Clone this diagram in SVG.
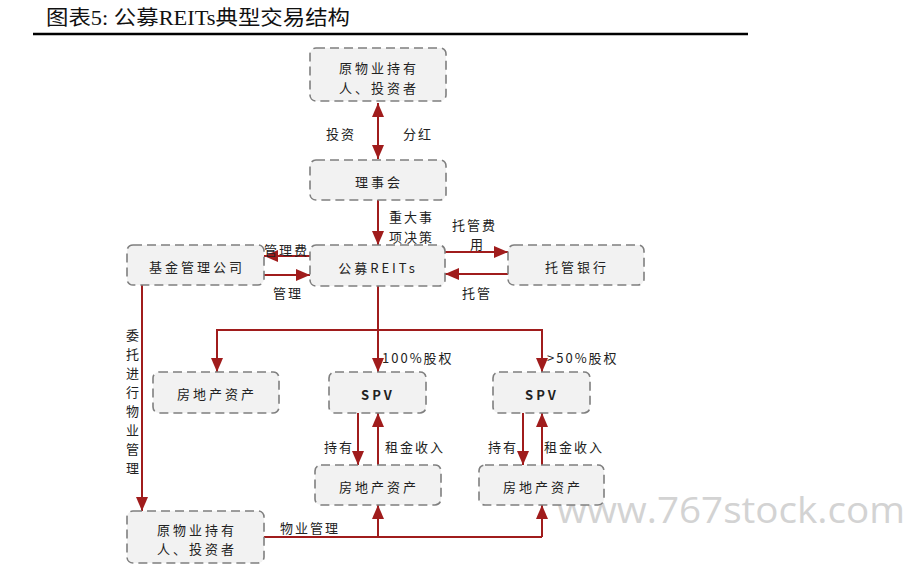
<svg xmlns="http://www.w3.org/2000/svg" width="907" height="586" viewBox="0 0 907 586">
<style>
.box{fill:#f2f2f2;stroke:#7f7f7f;stroke-width:1.6;stroke-dasharray:9 5}
.t{font-family:"Noto Sans CJK SC","Liberation Sans",sans-serif;font-size:13px;fill:#222;letter-spacing:3px;text-anchor:middle;dominant-baseline:central}
.l{font-family:"Noto Sans CJK SC","Liberation Sans",sans-serif;font-size:13px;fill:#222;letter-spacing:2px;dominant-baseline:central}
.c{fill:none;stroke:#a01c1c;stroke-width:2}
.a{marker-end:url(#ah)}
</style>
<defs>
<marker id="ah" markerUnits="userSpaceOnUse" markerWidth="14" markerHeight="12" refX="14" refY="6" orient="auto-start-reverse" viewBox="0 0 14 12">
<path d="M0,0 L14,6 L0,12 z" fill="#a01c1c"/>
</marker>
</defs>
<rect width="907" height="586" fill="#fff"/>
<text x="46" y="25" font-family="'Liberation Serif','Noto Sans CJK SC',serif" font-size="20" fill="#111" textLength="304" lengthAdjust="spacingAndGlyphs">图表5:  公募REITs典型交易结构</text>
<line x1="33" y1="34" x2="748" y2="34" stroke="#000" stroke-width="2.6"/>
<text x="557" y="523" font-family="'Open Sans','Liberation Sans',sans-serif" font-size="36" fill="#d3d3d3" textLength="348" lengthAdjust="spacingAndGlyphs">www.767stock.com</text>

<g id="connectors">
<line class="c a" x1="378" y1="103" x2="378" y2="159" marker-start="url(#ah)"/>
<line class="c a" x1="378" y1="200" x2="378" y2="245"/>
<line class="c a" x1="310" y1="256" x2="264" y2="256"/>
<line class="c a" x1="264" y1="275" x2="310" y2="275"/>
<line class="c a" x1="445" y1="252" x2="508" y2="252"/>
<line class="c a" x1="508" y1="274" x2="445" y2="274"/>
<line class="c a" x1="378" y1="286" x2="378" y2="372"/>
<polyline class="c a" points="378,330 217,330 217,372"/>
<polyline class="c a" points="378,330 542,330 542,372"/>
<line class="c a" x1="142" y1="285" x2="142" y2="511"/>
<line class="c a" x1="358" y1="413" x2="358" y2="465"/>
<line class="c a" x1="378" y1="465" x2="378" y2="413"/>
<line class="c a" x1="523" y1="413" x2="523" y2="465"/>
<line class="c a" x1="542" y1="465" x2="542" y2="413"/>
<polyline class="c" points="264,537 542,537"/>
<line class="c a" x1="378" y1="537" x2="378" y2="505"/>
<line class="c a" x1="542" y1="537" x2="542" y2="505"/>
<text class="l" x="326" y="133">投资</text>
<text class="l" x="403" y="133">分红</text>
<text class="l" x="389" y="216">重大事</text>
<text class="l" x="389" y="236">项决策</text>
<text class="l" x="452" y="224">托管费</text>
<text class="l" x="470" y="243">用</text>
<text class="l" x="264" y="249">管理费</text>
<text class="l" x="273" y="292">管理</text>
<text class="l" x="462" y="292">托管</text>
<text class="l" x="382" y="357" letter-spacing="0">100%股权</text>
<text class="l" x="547" y="357" letter-spacing="0">&gt;50%股权</text>
<text class="l" x="324" y="446">持有</text>
<text class="l" x="385" y="446">租金收入</text>
<text class="l" x="488" y="446">持有</text>
<text class="l" x="544" y="446">租金收入</text>
<text class="l" x="280" y="527">物业管理</text>
<g>
<text class="t" x="134" y="334">委</text>
<text class="t" x="134" y="353">托</text>
<text class="t" x="134" y="372">进</text>
<text class="t" x="134" y="391">行</text>
<text class="t" x="134" y="410">物</text>
<text class="t" x="134" y="429">业</text>
<text class="t" x="134" y="448">管</text>
<text class="t" x="134" y="467">理</text>
</g>
</g>

<g id="n-top-investor">
<rect class="box" x="310" y="48" width="136" height="53" rx="6"/>
<text class="t" x="379" y="67">原物业持有</text>
<text class="t" x="379" y="87">人、投资者</text>
</g>
<g id="n-council">
<rect class="box" x="310" y="160" width="136" height="40" rx="6"/>
<text class="t" x="379" y="181">理事会</text>
</g>
<g id="n-reits">
<rect class="box" x="310" y="245" width="135" height="41" rx="6"/>
<text class="t" x="378" y="267" letter-spacing="1">公募REITs</text>
</g>
<g id="n-fund">
<rect class="box" x="127" y="245" width="137" height="40" rx="6"/>
<text class="t" x="197" y="266">基金管理公司</text>
</g>
<g id="n-bank">
<rect class="box" x="508" y="245" width="136" height="40" rx="6"/>
<text class="t" x="577" y="266">托管银行</text>
</g>
<g id="n-asset-left">
<rect class="box" x="153" y="372" width="126" height="41" rx="6"/>
<text class="t" x="217" y="393">房地产资产</text>
</g>
<g id="n-spv1">
<rect class="box" x="329" y="372" width="97" height="41" rx="6"/>
<text class="t" x="378" y="394" letter-spacing="1.5" font-weight="bold">SPV</text>
</g>
<g id="n-spv2">
<rect class="box" x="493" y="372" width="97" height="41" rx="6"/>
<text class="t" x="542" y="394" letter-spacing="1.5" font-weight="bold">SPV</text>
</g>
<g id="n-asset-mid">
<rect class="box" x="315" y="465" width="126" height="40" rx="6"/>
<text class="t" x="379" y="486">房地产资产</text>
</g>
<g id="n-asset-right">
<rect class="box" x="479" y="465" width="125" height="40" rx="6"/>
<text class="t" x="543" y="486">房地产资产</text>
</g>
<g id="n-bottom-investor">
<rect class="box" x="127" y="511" width="137" height="52" rx="6"/>
<text class="t" x="197" y="529">原物业持有</text>
<text class="t" x="197" y="548">人、投资者</text>
</g>
</svg>
